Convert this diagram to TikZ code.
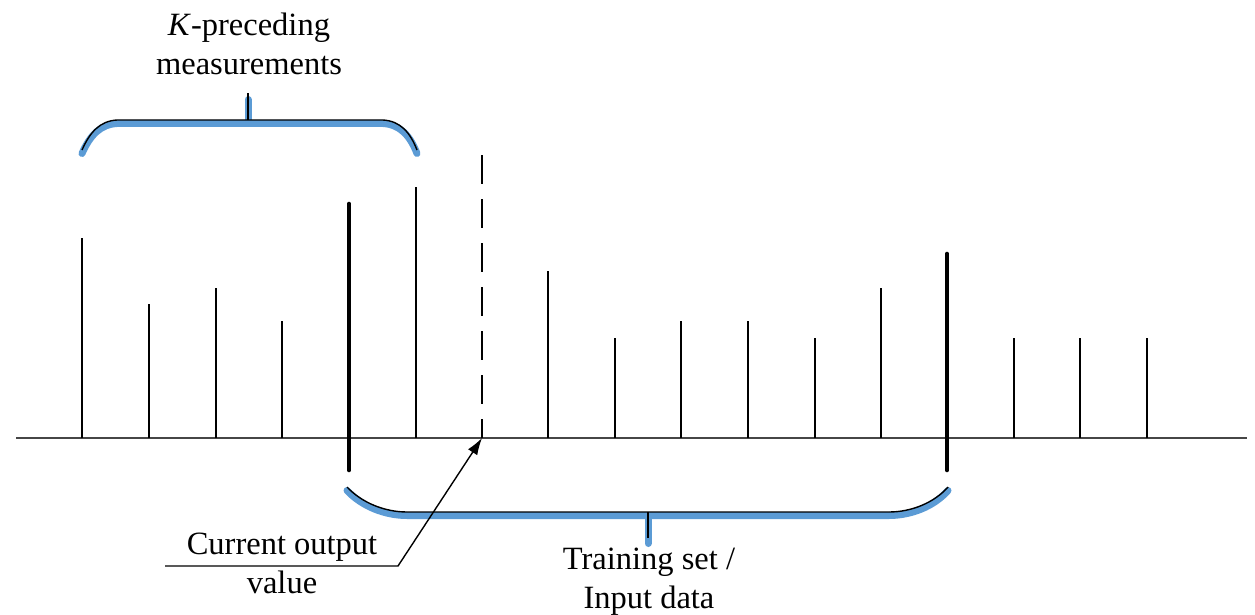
\documentclass[tikz,border=0pt]{standalone}
\usepackage{fontspec}
\setmainfont{Liberation Serif}
\newfontfamily\labelfont{Liberation Serif}
\usetikzlibrary{arrows.meta}
\definecolor{braceblue}{RGB}{91,155,213}
\definecolor{axisgray}{RGB}{70,70,70}
\tikzset{
  bar/.style={draw=black, line width=1.3pt},
  bigbar/.style={draw=black, line width=4.6pt, line cap=round},
  nextbar/.style={draw=black, line width=2pt, dash pattern=on 29pt off 15pt},
  axisline/.style={draw=axisgray, line width=1.4pt},
  braceshadow/.style={draw=braceblue, line width=7pt, line cap=round, yshift=-3.5pt},
  braceline/.style={draw=black, line width=1.4pt},
  label/.style={font=\labelfont\fontsize{32.5}{39}\selectfont, align=center, inner sep=0pt, anchor=base},
  pointer/.style={draw=black, line width=1.4pt, -{Latex[length=17pt,width=11pt]}},
}
\begin{document}
\begin{tikzpicture}[x=1pt, y=-1pt]
\useasboundingbox (0,0) rectangle (1255,615);

% time axis
\coordinate (ax0) at (16,438);
\coordinate (ax1) at (1247,438);
\draw[axisline] (ax0) -- (ax1);

% measurement samples
\foreach \x/\h in {82/238, 149/304, 216/288, 282/321, 416/187, 548/271,
                   615/338, 681/321, 748/321, 815/338, 881/288,
                   1014/338, 1080/338, 1147/338}
  \draw[bar] (\x,438) -- (\x,\h);

% window boundaries
\draw[bigbar] (349,204) -- (349,470);
\draw[bigbar] (947,254) -- (947,470);

% next (current output) sample
\coordinate (cur) at (482,438);
\draw[nextbar] (482,155) -- (cur);

% brace over the K preceding measurements
\draw[braceshadow] (82,150) .. controls (90,132) and (100,121) .. (117,120)
  -- (383,120) .. controls (400,121) and (410,132) .. (417,150);
\draw[braceshadow] (248,120) -- (248,96);
\draw[braceline] (82,150) .. controls (90,132) and (100,121) .. (117,120)
  -- (383,120) .. controls (400,121) and (410,132) .. (417,150);
\draw[braceline] (248,120) -- (248,93);

% brace under the training window
\draw[braceshadow] (347,487) .. controls (362,503) and (385,512) .. (407,512)
  -- (889,512) .. controls (911,512) and (934,503) .. (948,487);
\draw[braceshadow] (648,512) -- (648,540);
\draw[braceline] (347,487) .. controls (362,503) and (385,512) .. (407,512)
  -- (889,512) .. controls (911,512) and (934,503) .. (948,487);
\draw[braceline] (648,512) -- (648,538);

% labels
\node[label] (kprec) at (249,75) {\textit{K}-preceding\\measurements};
\node[label] (train) at (649,608) {Training set /\\Input data};
\node[label] (curout) at (282,593) {Current output\\value};

% leader to the current output value
\coordinate (lead0) at (165,566);
\coordinate (lead1) at (398,566);
\draw[pointer] (lead0) -- (lead1) -- (cur);
\end{tikzpicture}
\end{document}
